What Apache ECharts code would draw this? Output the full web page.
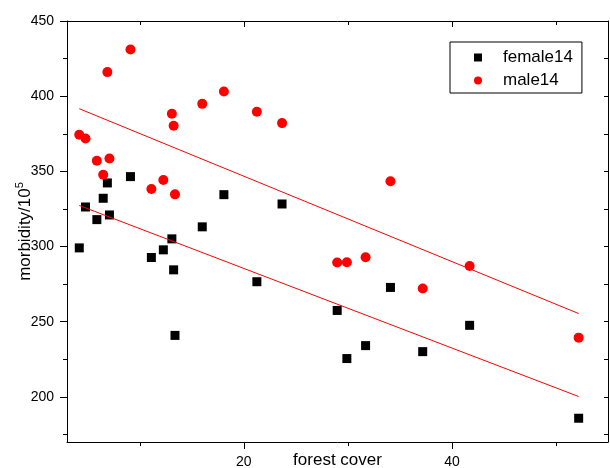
<!DOCTYPE html>
<html>
<head>
<meta charset="utf-8">
<script src="https://cdn.jsdelivr.net/npm/echarts@6/dist/echarts.min.js"></script>
<style>
  html, body { margin: 0; padding: 0; background: #fff; }
  #main { width: 610px; height: 468px; }
</style>
</head>
<body>
<div id="main"></div>
<script>
// forest cover (x) shared by both series
const forestCover = [4.18, 4.78, 5.87, 6.48, 6.88, 7.08, 9.1, 11.11, 12.26, 13.08, 13.25, 13.38,
  16.0, 18.08, 21.25, 23.67, 28.97, 29.9, 31.7, 34.09, 37.19, 41.7, 52.18];
const female14 = [299.1, 326.3, 317.9, 332.1, 342.3, 321.0, 346.5, 292.7, 297.8, 305.1, 284.5, 240.9,
  313.1, 334.5, 276.6, 328.3, 257.5, 225.5, 234.1, 272.8, 230.1, 247.6, 185.8];
const male14 = [374.3, 371.9, 357.1, 347.8, 416.0, 358.6, 431.0, 338.3, 344.3, 388.3, 380.3, 334.7,
  394.9, 403.1, 389.6, 382.1, 289.4, 289.6, 292.9, 343.4, 272.1, 287.0, 239.4];

const xMajor = [20, 40];
const xMinor = [10, 30, 50];
const yMajor = [200, 250, 300, 350, 400, 450];
const yMinor = [175, 225, 275, 325, 375, 425];
const yRight = [175, 200, 225, 250, 275, 300, 325, 350, 375, 400, 425, 450];

function pairs(xs, ys) {
  return xs.map((x, i) => [x, ys[i]]);
}

// least squares fit line, drawn over the data range
function fitLine(xs, ys) {
  const n = xs.length;
  let sx = 0, sy = 0, sxx = 0, sxy = 0;
  for (let i = 0; i < n; i++) {
    sx += xs[i]; sy += ys[i]; sxx += xs[i] * xs[i]; sxy += xs[i] * ys[i];
  }
  const b = (n * sxy - sx * sy) / (n * sxx - sx * sx);
  const a = (sy - b * sx) / n;
  const x0 = Math.min(...xs), x1 = Math.max(...xs);
  return [[x0, a + b * x0], [x1, a + b * x1]];
}

const font = 'Liberation Sans, Arial, sans-serif';
const black = { color: '#000', width: 1 };

let chart = echarts.init(document.getElementById('main'));

let option = {
  animation: false,
  textStyle: { fontFamily: font, color: '#000' },
  grid: { left: 67, right: 2, top: 21, bottom: 26, outerBoundsMode: 'none', containLabel: false },
  legend: {
    orient: 'vertical',
    left: 450,
    top: 42,
    padding: [7, 9, 4, 24],
    itemGap: 6,
    itemWidth: 8,
    itemHeight: 8,
    borderColor: '#000',
    borderWidth: 1,
    textStyle: { fontSize: 17, color: '#000', padding: [0, 0, 0, 16] },
    data: [
      { name: 'female14', icon: 'rect' },
      { name: 'male14', icon: 'circle' }
    ]
  },
  xAxis: [
    {
      type: 'value', min: 3, max: 55, position: 'bottom',
      axisLine: { show: true, lineStyle: black },
      axisTick: { show: true, length: 7, customValues: xMajor, lineStyle: black },
      axisLabel: { customValues: xMajor, fontSize: 14, color: '#000', margin: 13 },
      splitLine: { show: false },
      name: 'forest cover', nameLocation: 'middle', nameGap: 10, nameMoveOverlap: false,
      nameTextStyle: { fontSize: 17, color: '#000' }
    },
    {
      type: 'value', min: 3, max: 55, position: 'bottom',
      axisLine: { show: false },
      axisTick: { show: true, length: 4, customValues: xMinor, lineStyle: black },
      axisLabel: { show: false },
      splitLine: { show: false }
    },
    {
      type: 'value', min: 3, max: 55, position: 'top',
      axisLine: { show: true, lineStyle: black },
      axisTick: { show: true, inside: true, length: 6, customValues: xMajor, lineStyle: black },
      axisLabel: { show: false },
      splitLine: { show: false }
    },
    {
      type: 'value', min: 3, max: 55, position: 'top',
      axisLine: { show: false },
      axisTick: { show: true, inside: true, length: 4, customValues: xMinor, lineStyle: black },
      axisLabel: { show: false },
      splitLine: { show: false }
    }
  ],
  yAxis: [
    {
      type: 'value', min: 170, max: 450, position: 'left',
      axisLine: { show: true, lineStyle: black },
      axisTick: { show: true, length: 7, customValues: yMajor, lineStyle: black },
      axisLabel: { customValues: yMajor, fontSize: 14, color: '#000', margin: 13 },
      splitLine: { show: false },
      name: '{a|morbidity/10}{b|5}', nameLocation: 'middle', nameGap: 33, nameRotate: 90,
      nameMoveOverlap: false,
      nameTextStyle: {
        rich: {
          a: { fontSize: 17, color: '#000', fontFamily: font, lineHeight: 20, verticalAlign: 'bottom' },
          b: { fontSize: 11, color: '#000', fontFamily: font, lineHeight: 20, verticalAlign: 'top' }
        }
      }
    },
    {
      type: 'value', min: 170, max: 450, position: 'left',
      axisLine: { show: false },
      axisTick: { show: true, length: 4, customValues: yMinor, lineStyle: black },
      axisLabel: { show: false },
      splitLine: { show: false }
    },
    {
      type: 'value', min: 170, max: 450, position: 'right',
      axisLine: { show: true, lineStyle: black },
      axisTick: { show: true, inside: true, length: 4, customValues: yRight, lineStyle: black },
      axisLabel: { show: false },
      splitLine: { show: false }
    }
  ],
  series: [
    {
      name: 'female14', type: 'scatter', symbol: 'rect', symbolSize: 9,
      itemStyle: { color: '#000', opacity: 1 },
      data: pairs(forestCover, female14)
    },
    {
      name: 'male14', type: 'scatter', symbol: 'circle', symbolSize: 10,
      itemStyle: { color: '#ff0000', opacity: 1 },
      data: pairs(forestCover, male14)
    },
    {
      name: 'female fit', type: 'line', showSymbol: false, silent: true,
      lineStyle: { color: '#ff0000', width: 1 },
      data: fitLine(forestCover, female14)
    },
    {
      name: 'male fit', type: 'line', showSymbol: false, silent: true,
      lineStyle: { color: '#ff0000', width: 1 },
      data: fitLine(forestCover, male14)
    }
  ]
};

chart.setOption(option);
</script>
</body>
</html>
